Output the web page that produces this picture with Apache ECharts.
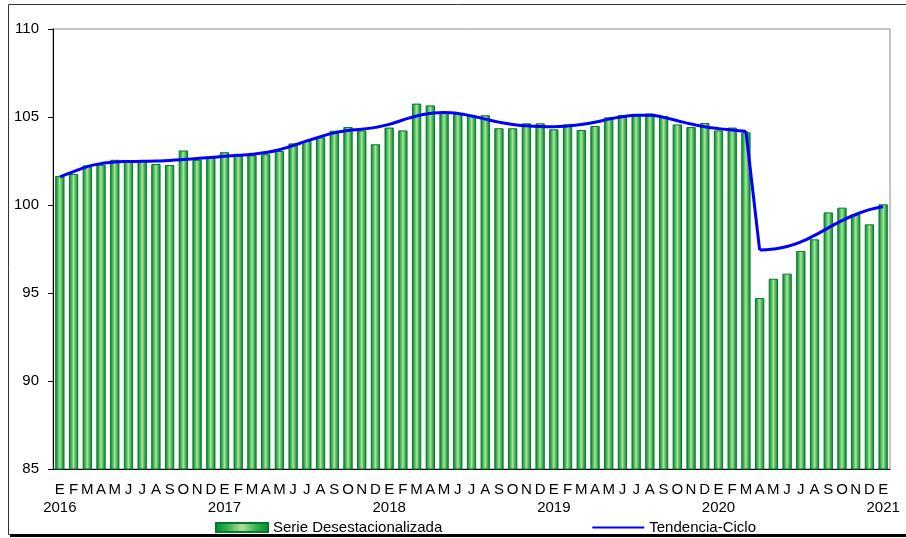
<!DOCTYPE html>
<html>
<head>
<meta charset="utf-8">
<script src="https://cdn.jsdelivr.net/npm/echarts@6/dist/echarts.min.js"></script>
<style>
html,body{margin:0;padding:0;background:#fff;}
#chart{width:906px;height:538px;}
</style>
</head>
<body>
<div id="chart"></div>
<script>
// meses (E..D) de ene 2016 a ene 2021
var months = ['E','F','M','A','M','J','J','A','S','O','N','D'];
var years = ['2016','2017','2018','2019','2020','2021'];

var serie = [
	101.65, 101.76, 102.25, 102.28, 102.57, 102.46, 102.54, 102.33, 102.27, 103.10, 102.57, 102.67,
	103.00, 102.80, 102.82, 102.88, 103.07, 103.50, 103.64, 103.85, 104.22, 104.43, 104.24, 103.45,
	104.40, 104.24, 105.76, 105.66, 105.25, 105.17, 105.06, 105.10, 104.36, 104.36, 104.64, 104.64,
	104.30, 104.58, 104.26, 104.49, 104.98, 105.11, 105.10, 105.20, 105.06, 104.58, 104.43, 104.66,
	104.24, 104.40, 104.13, 94.72, 95.81, 96.10, 97.39, 98.05, 99.58, 99.85, 99.47, 98.90,
	100.04
];
var tendencia = [
	101.60, 101.90, 102.18, 102.35, 102.45, 102.47, 102.48, 102.50, 102.53, 102.58, 102.64, 102.70,
	102.77, 102.82, 102.88, 102.98, 103.14, 103.38, 103.64, 103.88, 104.10, 104.23, 104.31, 104.41,
	104.58, 104.83, 105.06, 105.20, 105.26, 105.20, 105.06, 104.88, 104.71, 104.58, 104.50, 104.46,
	104.45, 104.49, 104.57, 104.70, 104.88, 105.02, 105.10, 105.10, 104.98, 104.79, 104.60, 104.45,
	104.34, 104.26, 104.19, 97.44, 97.50, 97.64, 97.90, 98.27, 98.70, 99.11, 99.46, 99.74,
	99.90
];
// la caida de abril 2020 va en tramo recto
var corte = 51;

var categories = [];
var tramoA = [], tramoB = [], tramoC = [];
for (var i = 0; i < serie.length; i++) {
	categories.push(months[i % 12]);
	tramoA.push(i < corte ? tendencia[i] : null);
	tramoB.push(i === corte - 1 || i === corte ? tendencia[i] : null);
	tramoC.push(i >= corte ? tendencia[i] : null);
}

var font = "'Liberation Sans', Arial, sans-serif";
var barColor = new echarts.graphic.LinearGradient(0, 0, 1, 0, [
	{offset: 0, color: '#008a32'},
	{offset: 0.22, color: '#2fae4c'},
	{offset: 0.5, color: '#b2e09e'},
	{offset: 0.78, color: '#2fae4c'},
	{offset: 1, color: '#008a32'}
]);
var lineStyle = {color: '#0000ff', width: 3};

var myChart = echarts.init(document.getElementById('chart'));
var option = {
	backgroundColor: '#fff',
	animation: false,
	textStyle: {fontFamily: font},
	graphic: [
		{type: 'rect', shape: {x: 8.5, y: 4.5, width: 920, height: 530}, style: {fill: 'none', stroke: '#333', lineWidth: 1}, silent: true},
		{type: 'line', shape: {x1: 10, y1: 535.5, x2: 906, y2: 535.5}, style: {stroke: '#000', lineWidth: 3}, silent: true}
	],
	grid: {
		left: 53, top: 29, right: 16, bottom: 69,
		show: true, borderColor: '#888', borderWidth: 1, backgroundColor: '#fff'
	},
	legend: {
		left: 210, top: 515,
		itemGap: 150,
		itemWidth: 52, itemHeight: 9,
		textStyle: {fontSize: 15, color: '#000', fontFamily: font},
		data: [
			{name: 'Serie Desestacionalizada', icon: 'rect'},
			{name: 'Tendencia-Ciclo', icon: 'path://M0,0 L52,0 L52,2 L0,2 Z'}
		]
	},
	xAxis: [{
		type: 'category',
		data: categories,
		boundaryGap: true,
		axisLine: {lineStyle: {color: '#000', width: 1}},
		axisTick: {
			length: 5,
			lineStyle: {color: '#000'},
			interval: function(index) { return index % 12 === 0; }
		},
		axisLabel: {
			interval: 0,
			margin: 12,
			color: '#000',
			fontSize: 15,
			lineHeight: 18,
			fontFamily: font,
			formatter: function(value, index) {
				if (index % 12 === 0) return value + '\n' + years[index / 12];
				return value;
			}
		},
		splitLine: {show: false}
	}, {
		type: 'category',
		position: 'bottom',
		data: categories,
		boundaryGap: true,
		axisLine: {show: false},
		axisTick: {
			inside: true, length: 4,
			lineStyle: {color: '#000'},
			interval: function(index) { return index % 12 === 0; }
		},
		axisLabel: {show: false},
		splitLine: {show: false}
	}],
	yAxis: {
		type: 'value',
		min: 85, max: 110, interval: 5,
		axisLine: {show: true, lineStyle: {color: '#000', width: 1}},
		axisTick: {show: true, length: 5, lineStyle: {color: '#000'}},
		axisLabel: {color: '#000', fontSize: 15, margin: 14, fontFamily: font},
		splitLine: {show: false}
	},
	series: [{
		name: 'Serie Desestacionalizada',
		type: 'bar',
		data: serie,
		barCategoryGap: '32%',
		itemStyle: {color: barColor, borderColor: '#07782a', borderWidth: 1}
	}, {
		name: 'Tendencia-Ciclo',
		type: 'line',
		data: tramoA,
		symbol: 'none',
		smooth: 0.5,
		z: 5,
		lineStyle: lineStyle,
		itemStyle: {color: '#0000ff'}
	}, {
		name: 'Tendencia-Ciclo',
		type: 'line',
		data: tramoB,
		symbol: 'none',
		z: 5,
		lineStyle: lineStyle,
		itemStyle: {color: '#0000ff'}
	}, {
		name: 'Tendencia-Ciclo',
		type: 'line',
		data: tramoC,
		symbol: 'none',
		smooth: 0.5,
		z: 5,
		lineStyle: lineStyle,
		itemStyle: {color: '#0000ff'}
	}]
};
myChart.setOption(option);
</script>
</body>
</html>
